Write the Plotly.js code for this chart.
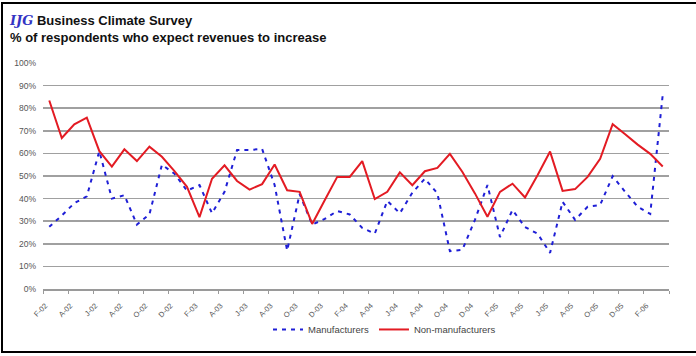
<!DOCTYPE html>
<html>
<head>
<meta charset="utf-8">
<script src="https://cdn.plot.ly/plotly-3.0.1.min.js"></script>
<style>
  html, body { margin: 0; padding: 0; background: #fff; }
  #wrap { position: relative; width: 696px; height: 356px; overflow: hidden; }
  #chart { position: absolute; left: 0; top: 0; width: 696px; height: 356px; }
  #frame { position: absolute; left: 1px; top: 2px; width: 760px; height: 347px;
           border-top: 2px solid #000; border-left: 2px solid #000; border-bottom: 2px solid #000;
           pointer-events: none; }
</style>
</head>
<body>
<div id="wrap"><div id="chart"></div><div id="frame"></div></div>
<script>
// Monthly survey periods (Feb-02 .. Mar-06)
const months = [
  "Feb-02","Mar-02","Apr-02","May-02","Jun-02","Jul-02","Aug-02","Sep-02","Oct-02","Nov-02","Dec-02","Jan-03",
  "Feb-03","Mar-03","Apr-03","May-03","Jun-03","Jul-03","Aug-03","Sep-03","Oct-03","Nov-03","Dec-03","Jan-04",
  "Feb-04","Mar-04","Apr-04","May-04","Jun-04","Jul-04","Aug-04","Sep-04","Oct-04","Nov-04","Dec-04","Jan-05",
  "Feb-05","Mar-05","Apr-05","May-05","Jun-05","Jul-05","Aug-05","Sep-05","Oct-05","Nov-05","Dec-05","Jan-06",
  "Feb-06","Mar-06"
];
// Axis labels shown every second month
const tickLabels = ["F-02","A-02","J-02","A-02","O-02","D-02","F-03","A-03","J-03","A-03","O-03","D-03",
  "F-04","A-04","J-04","A-04","O-04","D-04","F-05","A-05","J-05","A-05","O-05","D-05","F-06"];

// % of respondents who expect revenues to increase
const manufacturers = [27.5,32.5,38,41,61,40,41.5,28.5,33,55,51,43.5,
  46,33.5,43,61.5,61.5,62,46,17,42,28.5,31,34.5,
  33,27,24.5,39,33.5,42.6,48.8,42.3,16.7,17.4,30.6,46,
  23,35,27.4,24.5,16,38.6,30.6,36.4,37.2,49.9,43,36.4,
  33.2,86];
const nonManufacturers = [83.4,66.8,72.9,75.8,61,54.2,61.8,56.6,63,58.5,52.2,45.2,
  31.8,48.8,54.7,47.8,44,46.4,55.1,43.7,43,28.8,39.3,49.6,
  49.6,56.6,39.8,43,51.6,45.9,52.1,53.6,59.8,51.8,42.3,32,
  43,46.6,40.5,50.3,60.8,43.4,44.2,49.6,57.6,72.9,68.5,63.9,
  59.8,54.2];

const xIdx = months.map((m, i) => i);
const tickVals = tickLabels.map((t, k) => months.indexOf(months[2 * k]));
const boundaryVals = tickLabels.map((t, k) => 2 * k - 0.5).concat([months.length - 0.5]);

const traces = [
  { x: xIdx, y: manufacturers, text: months, name: "Manufacturers", type: "scatter", mode: "lines",
    line: { color: "#1f1fd6", width: 2, dash: "4px,5px" } },
  { x: xIdx, y: nonManufacturers, text: months, name: "Non-manufacturers", type: "scatter", mode: "lines",
    line: { color: "#e31b23", width: 2 } }
];

const layout = {
  width: 696, height: 356,
  margin: { l: 43, r: 27, t: 63, b: 64, pad: 0 },
  paper_bgcolor: "#fff", plot_bgcolor: "#fff",
  font: { family: "Liberation Sans, Arial, sans-serif", color: "#555" },
  title: {
    text: "<span style='font-family:DejaVu Serif, serif;font-style:italic;color:#3434c4;font-size:13px'>IJG</span> Business Climate Survey<br>% of respondents who expect revenues to increase",
    x: 10 / 696, xanchor: "left", xref: "container",
    y: 1 - 25 / 356, yanchor: "top", yref: "container",
    font: { family: "Liberation Sans, Arial, sans-serif", size: 13, color: "#111", weight: "bold" }
  },
  xaxis: {
    type: "linear", range: [-0.5, months.length - 0.5], fixedrange: true,
    tickmode: "array", tickvals: tickVals, ticktext: tickLabels,
    tickangle: -45, ticks: "", ticklabelshift: -4, ticklabelstandoff: 8,
    tickfont: { size: 7.5, color: "#555" },
    showgrid: false, zeroline: false,
    showline: true, linecolor: "#9a9a9a", linewidth: 1.5,
    minor: { tickmode: "array", tickvals: boundaryVals, ticks: "outside", ticklen: 3, tickwidth: 1, tickcolor: "#9a9a9a", showgrid: false }
  },
  yaxis: {
    range: [0, 100], dtick: 10, tick0: 0, ticksuffix: "%", fixedrange: true,
    showgrid: true, gridcolor: "#a0a0a0", gridwidth: 1.5,
    zeroline: false, showline: false, ticks: "", ticklabelstandoff: 6,
    tickfont: { size: 8.5, color: "#555" }
  },
  showlegend: true,
  legend: {
    orientation: "h", x: (268 - 43) / 626, xanchor: "left",
    y: (292 - 333) / 229, yanchor: "middle",
    font: { size: 9.5, color: "#444" }, bgcolor: "rgba(0,0,0,0)",
    itemwidth: 30, tracegroupgap: 0
  }
};

Plotly.newPlot("chart", traces, layout, { staticPlot: true, displayModeBar: false });
</script>
</body>
</html>
